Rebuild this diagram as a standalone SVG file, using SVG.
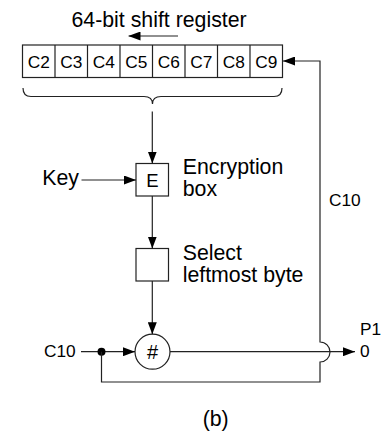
<svg xmlns="http://www.w3.org/2000/svg" width="383" height="432" viewBox="0 0 383 432">
<style>
.t{font-family:"Liberation Sans",Arial,Helvetica,sans-serif;fill:#000}
.big{font-size:21.3px}
.sm{font-size:17.3px}
.mid{text-anchor:middle}
.ln{stroke:#222;stroke-width:1.2;fill:none}
.bx{fill:#fff;stroke:#222;stroke-width:1.2}
</style>
<defs>
<marker id="ah" markerWidth="12" markerHeight="9" refX="12" refY="4.5" orient="auto" markerUnits="userSpaceOnUse"><path d="M0,0 L12,4.5 L0,9 Z" fill="#000"/></marker>
</defs>
<rect width="383" height="432" fill="#fff"/>
<g id="title">
<text class="t big" x="71.5" y="26.5">64-bit shift register</text>
</g>
<g id="register">
<rect class="bx" x="22.5" y="45" width="260" height="32.5"/>
<path class="ln" d="M55,45V77.5M87.5,45V77.5M120,45V77.5M152.5,45V77.5M185,45V77.5M217.5,45V77.5M250,45V77.5"/>
<text class="t sm mid" x="38.75" y="67.5">C2</text>
<text class="t sm mid" x="71.25" y="67.5">C3</text>
<text class="t sm mid" x="103.75" y="67.5">C4</text>
<text class="t sm mid" x="136.25" y="67.5">C5</text>
<text class="t sm mid" x="168.75" y="67.5">C6</text>
<text class="t sm mid" x="201.25" y="67.5">C7</text>
<text class="t sm mid" x="233.75" y="67.5">C8</text>
<text class="t sm mid" x="266.25" y="67.5">C9</text>
</g>
<g id="brace">
<path class="ln" d="M23,88 Q23,96.5 31,96.5 H144 Q152.5,96.5 152.5,104 Q152.5,96.5 161,96.5 H274 Q282,96.5 282,88"/>
</g>
<g id="encryption">
<rect class="bx" x="136" y="163.5" width="32.5" height="32.5"/>
<text class="t mid" style="font-size:18.5px" x="152.3" y="186.5">E</text>
<text class="t big" x="182.7" y="173.5">Encryption</text>
<text class="t big" x="182.7" y="196">box</text>
</g>
<g id="key">
<text class="t big" x="42.3" y="185">Key</text>
</g>
<g id="select">
<rect class="bx" x="136" y="248.5" width="32.5" height="32.5"/>
<text class="t big" x="182.7" y="259.5">Select</text>
<text class="t big" x="182.7" y="282">leftmost byte</text>
</g>
<g id="xor">
<circle class="bx" cx="152.5" cy="351.7" r="17.5"/>
<text class="t mid" style="font-size:20px" x="152.5" y="358.5">#</text>
</g>
<g id="labels">
<text class="t sm" x="44" y="356.7">C10</text>
<text class="t sm" x="329" y="206">C10</text>
<text class="t sm" x="360" y="335">P1</text>
<text class="t sm" x="360" y="356.5">0</text>
<text class="t big" x="202.7" y="426">(b)</text>
</g>
<g id="connectors">
<line class="ln" x1="178" y1="36" x2="128.5" y2="36" marker-end="url(#ah)"/>
<line class="ln" x1="152.3" y1="111.5" x2="152.3" y2="163.5" marker-end="url(#ah)"/>
<line class="ln" x1="81.5" y1="180" x2="136" y2="180" marker-end="url(#ah)"/>
<line class="ln" x1="152.3" y1="196" x2="152.3" y2="248.5" marker-end="url(#ah)"/>
<line class="ln" x1="152.3" y1="281" x2="152.3" y2="334.2" marker-end="url(#ah)"/>
<line class="ln" x1="81" y1="351.7" x2="135" y2="351.7" marker-end="url(#ah)"/>
<circle cx="101.5" cy="351.7" r="4" fill="#000"/>
<path class="ln" d="M101.5,351.7 V382 H320 V362 A10,10 0 0 0 320,342 V61 H283" marker-end="url(#ah)"/>
<line class="ln" x1="170" y1="351.7" x2="355" y2="351.7" marker-end="url(#ah)"/>
</g>
</svg>
